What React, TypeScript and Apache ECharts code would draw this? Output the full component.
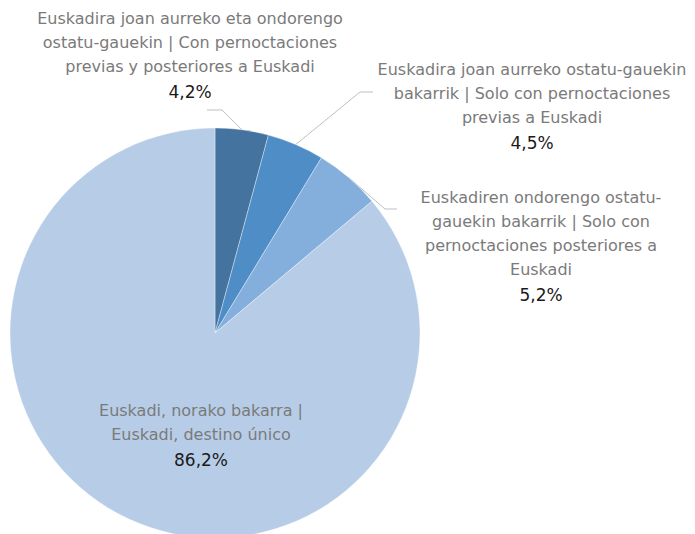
import React, { useEffect, useRef } from "react";
import * as echarts from "echarts";

const categories = [
  "Euskadira joan aurreko eta ondorengo\nostatu-gauekin | Con pernoctaciones\nprevias y posteriores a Euskadi",
  "Euskadira joan aurreko ostatu-gauekin\nbakarrik | Solo con pernoctaciones\nprevias a Euskadi",
  "Euskadiren ondorengo ostatu-\ngauekin bakarrik | Solo con\npernoctaciones posteriores a\nEuskadi",
  "Euskadi, norako bakarra |\nEuskadi, destino único",
];
const values = [4.2, 4.5, 5.2, 86.2];
const percentLabels = ["4,2%", "4,5%", "5,2%", "86,2%"];
const colors = ["#44739f", "#4f8dc7", "#84aedc", "#b7cde7"];

// label anchor (center-x, top-y) and leader-line elbow per slice
const labelPos = [
  { x: 190, y: 6, elbow: [222, 110], end: [207, 110] },
  { x: 532, y: 57, elbow: [360, 92], end: [373, 92] },
  { x: 541, y: 185, elbow: [385, 209], end: [397, 209] },
  { x: 201, y: 398, elbow: null, end: null },
];

export default function App() {
  const ref = useRef<HTMLDivElement>(null);
  useEffect(() => {
    document.body.style.margin = "0";
    const chart = echarts.init(ref.current!, undefined, { renderer: "svg" });
    const font = "DejaVu Sans";
    chart.setOption({
      animation: false,
      series: [
        {
          type: "pie",
          center: [215, 333],
          radius: [0, 205],
          startAngle: 90,
          clockwise: true,
          data: categories.map((c, i) => ({
            name: c,
            value: values[i],
            itemStyle: { color: colors[i] },
            labelLine: { show: i !== 3 },
          })),
          itemStyle: { borderColor: "rgba(255,255,255,0.6)", borderWidth: 0.6 },
          label: {
            show: true,
            position: "outside",
            overflow: "none",
            formatter: (p: any) => {
              const lines = (p.name as string).split("\n").map((l) => `{n|${l}}`);
              return lines.join("\n") + `\n{p|${percentLabels[p.dataIndex]}}`;
            },
            rich: {
              n: { fontFamily: font, fontSize: 16, color: "#7a7a7a", lineHeight: 24, align: "center" },
              p: { fontFamily: font, fontSize: 17, color: "#1a1a1a", lineHeight: 28, align: "center" },
            },
          },
          labelLine: {
            show: true,
            lineStyle: { color: "#bfbfbf", width: 1 },
          },
          labelLayout: (params: any) => {
            const lp = labelPos[params.dataIndex];
            const out: any = { x: lp.x, y: lp.y, align: "center", verticalAlign: "top" };
            if (lp.elbow && params.labelLinePoints) {
              out.labelLinePoints = [params.labelLinePoints[0], lp.elbow, lp.end];
            }
            return out;
          },
          emphasis: { disabled: true },
        },
      ],
    });
    return () => chart.dispose();
  }, []);
  return <div ref={ref} style={{ width: 695, height: 534 }} />;
}
